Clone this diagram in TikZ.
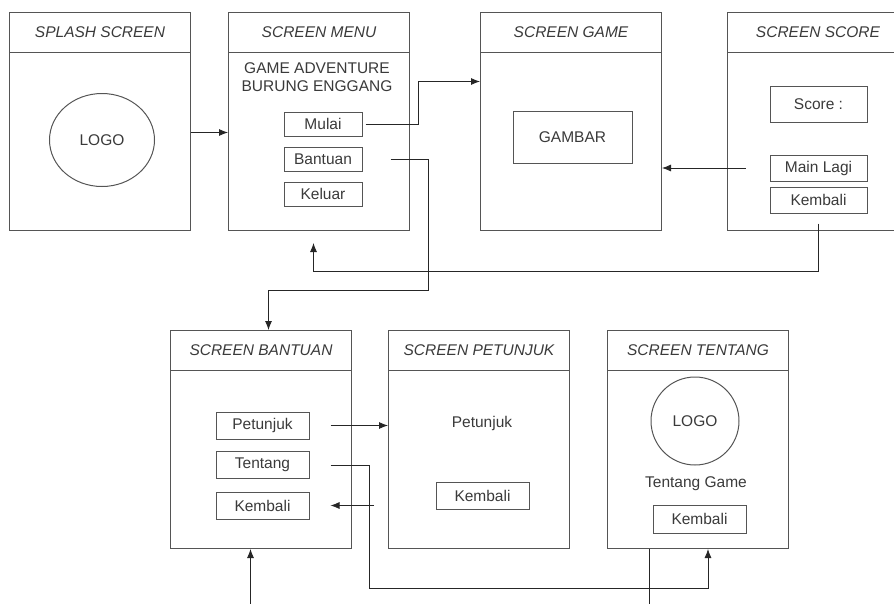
\documentclass[tikz,border=0pt]{standalone}
\usepackage{fontspec}
\setmainfont{Liberation Sans}
\usepackage{xcolor}
\usetikzlibrary{arrows.meta}
\usetikzlibrary{shapes}
\usetikzlibrary{calc}
\definecolor{garis}{HTML}{555555}
\definecolor{teks}{HTML}{3A3A3A}
\tikzstyle{screen}=[draw=garis, line width=1pt, rectangle, inner sep=0pt, minimum width=181pt, minimum height=218pt, anchor=north west]
\tikzstyle{btn}=[draw=garis, line width=1pt, rectangle, inner sep=0pt, minimum width=93pt, minimum height=27pt]
\tikzstyle{title}=[font=\fontsize{15.5}{18}\selectfont\itshape]
\tikzstyle{conn}=[draw=black!85, line width=.8pt, -{Latex[length=9pt,width=7pt]}]
\newcommand{\nscreen}[3]{
	\node[screen] (#1) at #2 {};
	\draw[garis, line width=1pt] ([yshift=-40pt]#1.north west) -- ([yshift=-40pt]#1.north east);
	\node[title] at ([yshift=-20pt]#1.north) {#3};
}

\begin{document}
\begin{tikzpicture}[x=1pt, y=-1pt, every node/.append style={text=teks, font=\fontsize{15.5}{18}\selectfont}]
	\clip (0,0) rectangle (894,603);
	\nscreen{splash}{(9,12)}{SPLASH SCREEN}
	\nscreen{menu}{(228,12)}{SCREEN MENU}
	\nscreen{game}{(480,12)}{SCREEN GAME}
	\nscreen{score}{(727,12)}{SCREEN SCORE}
	\nscreen{bantuan}{(170,330)}{SCREEN BANTUAN}
	\nscreen{petunjuk}{(388,330)}{SCREEN PETUNJUK}
	\nscreen{tentang}{(607,330)}{SCREEN TENTANG}
	% splash
	\node[draw=garis, line width=1pt, ellipse, minimum width=105pt, minimum height=93pt] (slogo) at (102,140) {LOGO};
	% menu
	\node[align=center] (judul) at (317,77) {GAME ADVENTURE\\BURUNG ENGGANG};
	\node[btn, minimum width=78pt, minimum height=24pt] (mulai) at (323,124) {Mulai};
	\node[btn, minimum width=78pt, minimum height=24pt] (bantuanb) at (323,159) {Bantuan};
	\node[btn, minimum width=78pt, minimum height=24pt] (keluar) at (323,194) {Keluar};
	% game
	\node[btn, minimum width=119pt, minimum height=52pt] (gambar) at (572.5,137) {GAMBAR};
	% score
	\node[btn, minimum width=97pt, minimum height=36pt] (skor) at (818.5,104) {Score :};
	\node[btn, minimum width=97pt, minimum height=26pt] (mainlagi) at (818.5,168) {Main Lagi};
	\node[btn, minimum width=97pt, minimum height=26pt] (skembali) at (818.5,200) {Kembali};
	% bantuan
	\node[btn] (petunjukb) at (262.5,425.5) {Petunjuk};
	\node[btn] (tentangb) at (262.5,465) {Tentang};
	\node[btn] (kembalib) at (262.5,505.5) {Kembali};
	% petunjuk
	\node (ptext) at (482,423) {Petunjuk};
	\node[btn] (pkembali) at (482.5,495.5) {Kembali};
	% tentang
	\node[draw=garis, line width=1pt, circle, minimum size=88pt] (tlogo) at (695,421) {LOGO};
	\node (tgame) at (696,484) {Tentang Game};
	\node[btn, minimum height=28pt] (tkembali) at (699.5,519) {Kembali};
	% connectors
	\coordinate (b1) at (428,290);
	\coordinate (b2) at ([xshift=-5.5pt,yshift=-40pt]menu.south);
	\coordinate (b3) at (369,588);
	\draw[conn] ([yshift=-11pt]splash.east) -- ([yshift=-11pt]menu.west);
	\draw[conn, shorten <=3pt] (mulai.east) -- ++(56,0) |- ([yshift=40pt]game.west);
	\draw[conn, shorten <=28pt] (bantuanb.east) -| (b1) -| ([xshift=7.5pt]bantuan.north);
	\draw[conn, shorten <=10pt] (skembali.south) |- (b2) -- ([xshift=-5.5pt,yshift=-12pt]menu.south);
	\draw[conn, shorten <=24pt] (mainlagi.west) -- (mainlagi.west -| game.east);
	\draw[conn, shorten <=21pt] (petunjukb.east) -- (petunjukb.east -| petunjuk.west);
	\draw[conn, shorten <=14pt, shorten >=21pt] (kembalib.east -| petunjuk.west) -- (kembalib.east);
	\draw[conn, shorten <=21pt] (tentangb.east) -| (b3) -| ([xshift=10pt]tentang.south);
	\draw[conn] ([xshift=-49pt]tentang.south) -- ++(0,70) -| ([xshift=-10.5pt]bantuan.south);
\end{tikzpicture}
\end{document}
